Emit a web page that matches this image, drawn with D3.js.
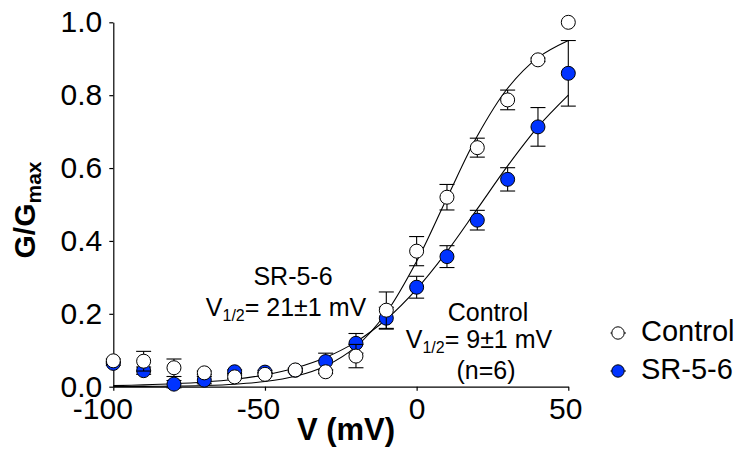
<!DOCTYPE html>
<html>
<head>
<meta charset="utf-8">
<script src="https://cdn.jsdelivr.net/npm/d3@7"></script>
<style>
  html, body { margin: 0; padding: 0; background: #fff; }
  svg { display: block; font-family: "Liberation Sans", Arial, sans-serif; }
</style>
</head>
<body>
<svg id="chart" width="744" height="450"></svg>
<script>
// ---- data ----
const voltages = [-100, -90, -80, -70, -60, -50, -40, -30, -20, -10, 0, 10, 20, 30, 40, 50];
const controlMean = [0.071, 0.070, 0.052, 0.038, 0.027, 0.034, 0.046, 0.041, 0.084, 0.210, 0.372, 0.520, 0.656, 0.787, 0.897, 1.000];
const controlErr  = [0.005, 0.027, 0.024, 0.005, 0.005, 0.005, 0.005, 0.005, 0.032, 0.050, 0.040, 0.035, 0.026, 0.027, 0.005, 0.000];
const srMean = [0.064, 0.044, 0.007, 0.018, 0.041, 0.040, 0.045, 0.069, 0.119, 0.188, 0.273, 0.357, 0.457, 0.569, 0.713, 0.860];
const srErr  = [0.005, 0.010, 0.010, 0.010, 0.005, 0.005, 0.005, 0.023, 0.027, 0.030, 0.030, 0.030, 0.027, 0.032, 0.053, 0.090];
// fitted curves
const fitV = [-100, -90, -80, -70, -60, -50, -40, -30, -20, -10, 0, 10, 20, 30, 40, 50];
const controlFit = [0.0004, 0.0008, 0.0017, 0.0034, 0.0069, 0.0141, 0.0286, 0.057, 0.110, 0.203, 0.344, 0.518, 0.688, 0.819, 0.903, 0.950];
const srFit = [0.003, 0.0049, 0.0079, 0.0127, 0.0203, 0.0324, 0.0513, 0.0802, 0.123, 0.185, 0.268, 0.371, 0.488, 0.606, 0.713, 0.800];
const xTicks = [-100, -50, 0, 50];
const yTicks = [0, 0.2, 0.4, 0.6, 0.8, 1.0];
const seriesNames = ["Control", "SR-5-6"];

const BLUE = "#0033ff";
const svg = d3.select("#chart");

const x = d3.scaleLinear().domain([-100, 50]).range([113.3, 568.3]);
const y = d3.scaleLinear().domain([0, 1]).range([386.7, 22.3]);

// axes
const xAxis = d3.axisBottom(x).tickValues(xTicks).tickSize(4).tickSizeOuter(0).tickPadding(7)
  .tickFormat(d3.format("d"));
const yAxis = d3.axisLeft(y).tickValues(yTicks).tickSize(4).tickSizeOuter(0).tickPadding(7)
  .tickFormat(d3.format(".1f"));

const gx = svg.append("g").attr("transform", `translate(0,${y(0)})`).call(xAxis);
const gy = svg.append("g").attr("transform", `translate(${x(-100)},0)`).call(yAxis);
[gx, gy].forEach(g => {
  g.selectAll("path, line").attr("stroke", "#000").attr("stroke-width", 1.2);
  g.selectAll("text").attr("fill", "#000").style("font-size", "30px")
   .style("font-family", "'Liberation Sans', Arial, sans-serif");
});
// negative labels hang their sign to the left, as in the original
const xLabelShift = { "-100": -11, "-50": -7, "0": 0, "50": -3 };
gx.selectAll("text").text(d => d < 0 ? "-" + Math.abs(d) : d)
  .attr("dx", d => xLabelShift[String(d)] || 0);

// axis titles
svg.append("text")
  .attr("x", 346).attr("y", 440)
  .attr("text-anchor", "middle")
  .style("font-size", "31px").style("font-weight", "bold")
  .text("V (mV)");

const yl = svg.append("text")
  .attr("transform", "translate(35,210) rotate(-90)")
  .attr("text-anchor", "middle")
  .style("font-size", "30px").style("font-weight", "bold");
yl.append("tspan").text("G/G");
yl.append("tspan").attr("dy", 6).style("font-size", "21px").text("max");

// fit curves
const line = d3.line().x(d => x(d[0])).y(d => y(d[1])).curve(d3.curveCatmullRom);
svg.append("path").datum(fitV.map((v, i) => [v, srFit[i]]))
  .attr("d", line).attr("fill", "none").attr("stroke", "#000").attr("stroke-width", 1.1);
svg.append("path").datum(fitV.map((v, i) => [v, controlFit[i]]))
  .attr("d", line).attr("fill", "none").attr("stroke", "#000").attr("stroke-width", 1.1);

function drawSeries(means, errs, fill) {
  const g = svg.append("g");
  const capW = 7.5;
  voltages.forEach((v, i) => {
    const e = errs[i];
    if (e <= 0) return;
    const cx = x(v), y1 = y(means[i] + e), y0 = y(means[i] - e);
    g.append("line").attr("x1", cx).attr("x2", cx).attr("y1", y1).attr("y2", y0)
      .attr("stroke", "#000").attr("stroke-width", 1.1);
    [y1, y0].forEach(yy => g.append("line").attr("x1", cx - capW).attr("x2", cx + capW)
      .attr("y1", yy).attr("y2", yy).attr("stroke", "#000").attr("stroke-width", 1.1));
  });
  g.selectAll("circle").data(voltages).enter().append("circle")
    .attr("cx", d => x(d)).attr("cy", (d, i) => y(means[i]))
    .attr("r", 7)
    .attr("fill", fill).attr("stroke", "#000").attr("stroke-width", 1);
}
drawSeries(srMean, srErr, BLUE);
drawSeries(controlMean, controlErr, "#fff");

// annotations
function sub(textSel, pre, subTxt, post) {
  textSel.append("tspan").text(pre);
  textSel.append("tspan").attr("dy", 5).style("font-size", "16px").text(subTxt);
  textSel.append("tspan").attr("dy", -5).text(post);
}
svg.append("text").attr("x", 293).attr("y", 285).attr("text-anchor", "middle")
  .style("font-size", "25px").text("SR-5-6");
sub(svg.append("text").attr("x", 286).attr("y", 316).attr("text-anchor", "middle")
  .style("font-size", "25px"), "V", "1/2", "= 21±1 mV");

svg.append("text").attr("x", 488).attr("y", 321).attr("text-anchor", "middle")
  .style("font-size", "25px").text("Control");
sub(svg.append("text").attr("x", 479).attr("y", 348).attr("text-anchor", "middle")
  .style("font-size", "25px"), "V", "1/2", "= 9±1 mV");
svg.append("text").attr("x", 486).attr("y", 379).attr("text-anchor", "middle")
  .style("font-size", "25px").text("(n=6)");

// legend
const legend = svg.append("g");
const legY = [333, 371];
const legFill = ["#fff", BLUE];
seriesNames.forEach((name, i) => {
  legend.append("line").attr("x1", 610.5).attr("x2", 626).attr("y1", legY[i]).attr("y2", legY[i])
    .attr("stroke", "#000").attr("stroke-width", 1);
  legend.append("circle").attr("cx", 618).attr("cy", legY[i]).attr("r", 6.2)
    .attr("fill", legFill[i]).attr("stroke", "#000").attr("stroke-width", 1);
  legend.append("text").attr("x", 641).attr("y", legY[i] + 8)
    .style("font-size", "29px").text(name);
});
</script>
</body>
</html>
